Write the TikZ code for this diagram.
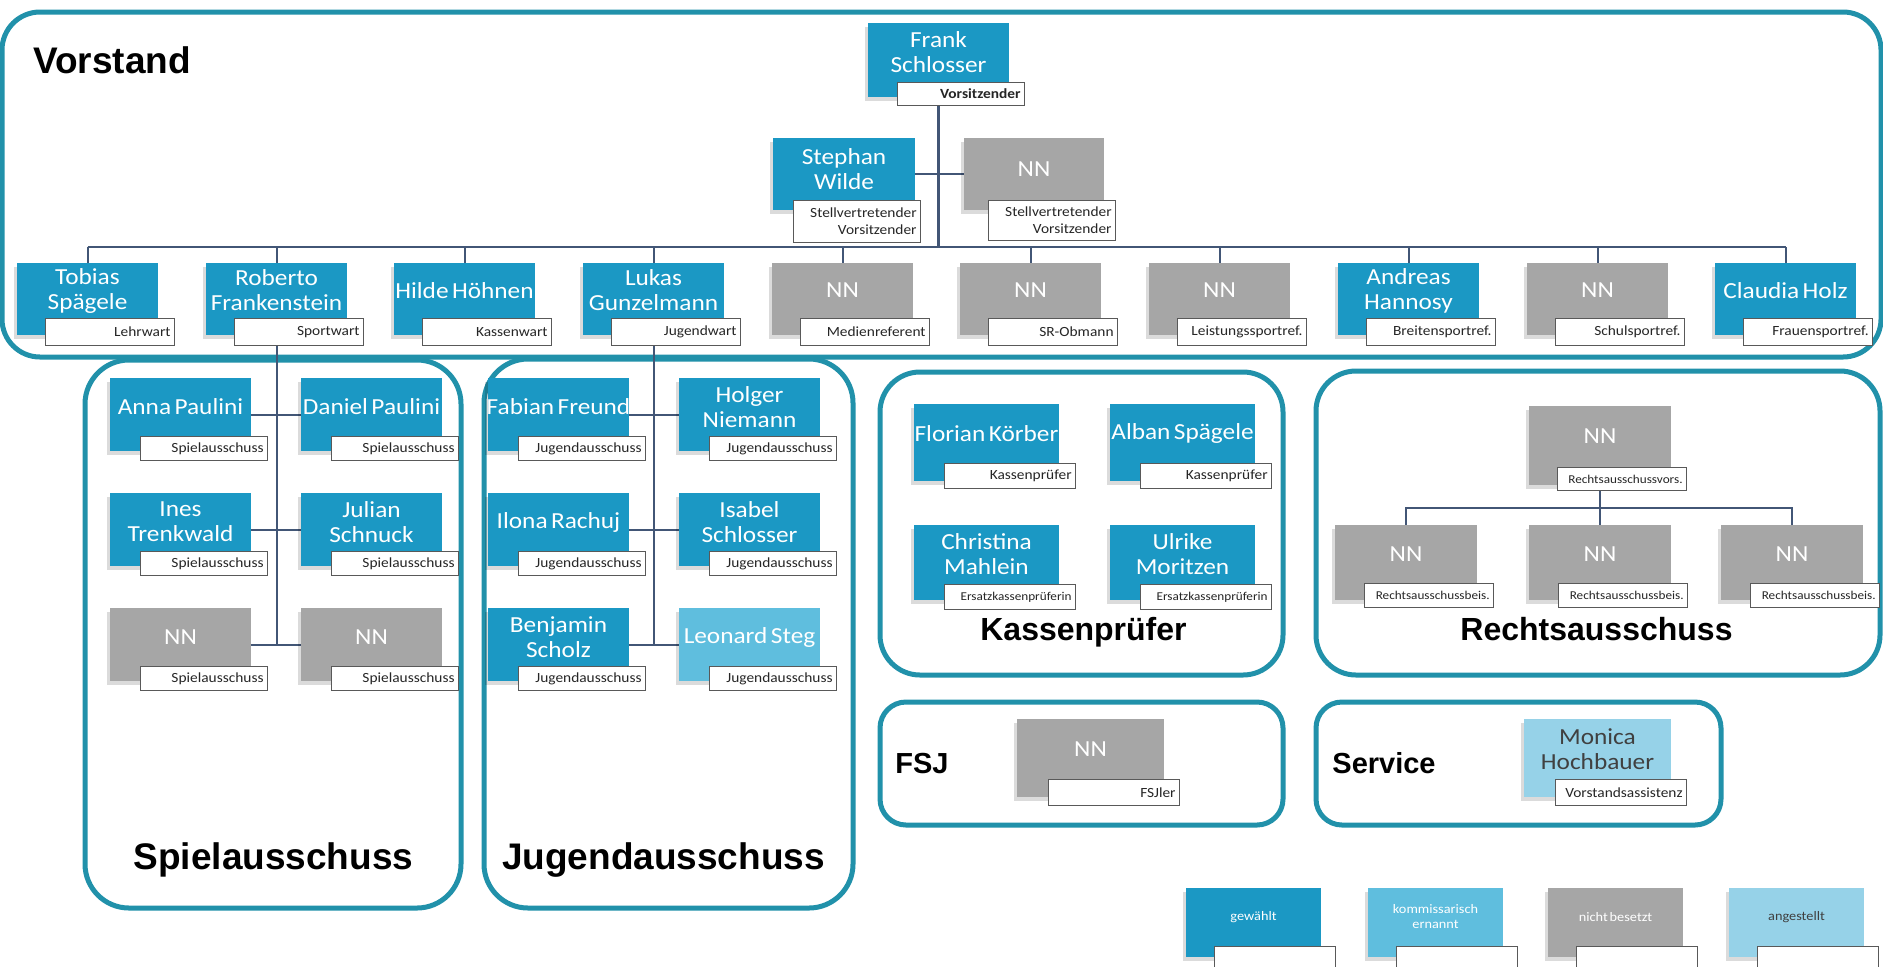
\documentclass[tikz,border=0pt]{standalone}
\usepackage{fontspec}
\setmainfont{Liberation Sans}
\newfontfamily\namefont{Carlito}[FakeStretch=1.1,WordSpace=0.6]
\newfontfamily\headfont{Liberation Sans}
\usetikzlibrary{backgrounds,shadows,calc}

\definecolor{gew}{RGB}{27,152,196}
\definecolor{kom}{RGB}{95,190,222}
\definecolor{nb}{RGB}{166,166,166}
\definecolor{ang}{RGB}{150,210,232}
\definecolor{grpcol}{RGB}{33,145,170}
\definecolor{conncol}{RGB}{66,86,118}

\tikzset{
  pbody/.style={rectangle,inner sep=0pt,draw=none,
    drop shadow={shadow xshift=-1.5pt,shadow yshift=-2pt,opacity=0.14,fill=black}},
  plab/.style={rectangle,inner sep=0pt,fill=white,draw=black!65,line width=0.5pt,anchor=north west},
  pname/.style={font=\namefont\fontsize{11.5pt}{12.5pt}\selectfont,align=center,inner sep=0pt},
  ptxt/.style={font=\namefont\fontsize{7pt}{8.5pt}\selectfont,align=right,inner sep=0pt,anchor=east,text=black!85},
  grp/.style={draw=grpcol,line width=2.5pt},
  conn/.style={draw=conncol,line width=1pt},
  headbig/.style={font=\headfont\bfseries\fontsize{18.5pt}{20pt}\selectfont,inner sep=0pt},
  headmid/.style={font=\headfont\bfseries\fontsize{16pt}{18pt}\selectfont,inner sep=0pt},
  headsmall/.style={font=\headfont\bfseries\fontsize{14.5pt}{16pt}\selectfont,inner sep=0pt},
}

% geometry defaults (in pixels)
\def\bw{141}\def\bh{72}\def\ldx{28}\def\ldy{55}\def\lw{129}\def\lh{27}\def\tcol{white}
% #1 name, #2 x, #3 y (top left), #4 fill, #5 name text, #6 label text
\newcommand\person[6]{%
  \node[pbody,fill=#4,minimum width=\bw*0.5pt,minimum height=\bh*0.5pt] (#1) at (#2+\bw/2,#3+\bh/2) {};
  \node[pname,text=\tcol] (#1n) at (#2+\bw/2,#3+\ldy/2) {#5};
  \node[plab,minimum width=\lw*0.5pt,minimum height=\lh*0.5pt] (#1l) at (#2+\ldx,#3+\ldy) {};
  \node[ptxt] (#1t) at ($(#1l.east)+(-2pt,0)$) {#6};%
}
\newcommand\tinylab[1]{{\fontsize{6pt}{7pt}\selectfont #1}}

\begin{document}
\begin{tikzpicture}[x=0.5pt,y=-0.5pt]
\useasboundingbox (0,0) rectangle (1883,966);

% ---------- Vorstand ----------
\def\bw{141}\def\bh{74}\def\ldx{29}\def\ldy{59}\def\lw{127}\def\lh{23}
\person{frank}{868}{23}{gew}{Frank\\Schlosser}{\bfseries Vorsitzender}
\def\bw{142}\def\bh{72}\def\ldx{20}\def\ldy{62}\def\lw{127}\def\lh{42}
\person{stephan}{773}{138}{gew}{Stephan\\Wilde}{Stellvertretender\\Vorsitzender}
\def\bw{140}\def\ldx{24}\def\lh{40}
\person{nnv}{964}{138}{nb}{NN}{Stellvertretender\\Vorsitzender}

\def\bw{141}\def\bh{72}\def\ldx{28}\def\ldy{55}\def\lw{129}\def\lh{27}
\person{tobias}{17}{263}{gew}{Tobias\\Spägele}{Lehrwart}
\person{roberto}{206}{263}{gew}{Roberto\\Frankenstein}{Sportwart}
\person{hilde}{394}{263}{gew}{Hilde Höhnen}{Kassenwart}
\person{lukas}{583}{263}{gew}{Lukas\\Gunzelmann}{Jugendwart}
\person{medien}{772}{263}{nb}{NN}{Medienreferent}
\person{sro}{960}{263}{nb}{NN}{SR-Obmann}
\person{leist}{1149}{263}{nb}{NN}{Leistungssportref.}
\person{andreas}{1338}{263}{gew}{Andreas\\Hannosy}{Breitensportref.}
\person{schul}{1527}{263}{nb}{NN}{Schulsportref.}
\person{claudia}{1715}{263}{gew}{Claudia Holz}{Frauensportref.}

% ---------- Spielausschuss ----------
\def\bw{141}\def\bh{73}\def\ldx{30}\def\ldy{58}\def\lw{127}\def\lh{24}
\person{anna}{110}{378}{gew}{Anna Paulini}{Spielausschuss}
\person{daniel}{301}{378}{gew}{Daniel Paulini}{Spielausschuss}
\person{ines}{110}{493}{gew}{Ines\\Trenkwald}{Spielausschuss}
\person{julian}{301}{493}{gew}{Julian\\Schnuck}{Spielausschuss}
\person{spa}{110}{608}{nb}{NN}{Spielausschuss}
\person{spb}{301}{608}{nb}{NN}{Spielausschuss}

% ---------- Jugendausschuss ----------
\person{fabian}{488}{378}{gew}{Fabian Freund}{Jugendausschuss}
\person{holger}{679}{378}{gew}{Holger\\Niemann}{Jugendausschuss}
\person{ilona}{488}{493}{gew}{Ilona Rachuj}{Jugendausschuss}
\person{isabel}{679}{493}{gew}{Isabel\\Schlosser}{Jugendausschuss}
\person{benjamin}{488}{608}{gew}{Benjamin\\Scholz}{Jugendausschuss}
\person{leonard}{679}{608}{kom}{Leonard Steg}{Jugendausschuss}

% ---------- Kassenpruefer ----------
\def\bw{145}\def\bh{77}\def\ldx{30}\def\ldy{59}\def\lw{131}\def\lh{25}
\person{florian}{914}{404}{gew}{Florian Körber}{Kassenprüfer}
\person{alban}{1110}{404}{gew}{Alban Spägele}{Kassenprüfer}
\def\bh{75}
\person{christina}{914}{525}{gew}{Christina\\Mahlein}{\tinylab{Ersatzkassenprüferin}}
\person{ulrike}{1110}{525}{gew}{Ulrike\\Moritzen}{\tinylab{Ersatzkassenprüferin}}

% ---------- Rechtsausschuss ----------
\def\bw{142}\def\bh{79}\def\ldx{28}\def\ldy{61}\def\lw{129}\def\lh{23}
\person{rv}{1529}{406}{nb}{NN}{\tinylab{Rechtsausschussvors.}}
\def\bh{75}\def\ldx{29}\def\ldy{58}\def\lh{24}
\person{ra}{1335}{525}{nb}{NN}{\tinylab{Rechtsausschussbeis.}}
\person{rb}{1529}{525}{nb}{NN}{\tinylab{Rechtsausschussbeis.}}
\person{rc}{1721}{525}{nb}{NN}{\tinylab{Rechtsausschussbeis.}}

% ---------- FSJ / Service ----------
\def\bw{147}\def\bh{78}\def\ldx{31}\def\ldy{60}\def\lw{131}\def\lh{26}
\person{fsj}{1017}{719}{nb}{NN}{FSJler}
\def\tcol{black!75}
\person{monica}{1524}{719}{ang}{Monica\\Hochbauer}{Vorstandsassistenz}

% ---------- Legend ----------
\def\bw{135}\def\bh{69}\def\ldx{28}\def\ldy{58}\def\lw{121}\def\lh{26}\def\tcol{white}
\tikzset{pname/.append style={font=\namefont\fontsize{6.5pt}{7.5pt}\selectfont}}
\person{lga}{1186}{888}{gew}{gewählt}{}
\person{lgb}{1368}{888}{kom}{kommissarisch\\ernannt}{}
\person{lgc}{1548}{888}{nb}{nicht besetzt}{}
\def\tcol{black!75}
\person{lgd}{1729}{888}{ang}{angestellt}{}

% ---------- Headings ----------
\node[headbig,anchor=base west] (hvor) at (33,73) {Vorstand};
\node[headbig,anchor=base] (hspiel) at (273.5,869) {Spielausschuss};
\node[headbig,anchor=base] (hjug) at (663.5,869) {Jugendausschuss};
\node[headmid,anchor=base] (hkas) at (1083.5,640) {Kassenprüfer};
\node[headmid,anchor=base] (hrecht) at (1596.5,640) {Rechtsausschuss};
\node[headsmall,anchor=base west] (hfsj) at (895,773) {FSJ};
\node[headsmall,anchor=base west] (hserv) at (1332,773) {Service};

\begin{pgfonlayer}{background}
  \fill[white] (0,0) rectangle (1883,966);
  % group frames
  \draw[grp,rounded corners=19pt] (2,12) rectangle (1881,357);
  \draw[grp,rounded corners=22pt] (85,360) rectangle (461,908);
  \draw[grp,rounded corners=22pt] (484,359) rectangle (853,908);
  \draw[grp,rounded corners=20pt] (880,372) rectangle (1283,675);
  \draw[grp,rounded corners=20pt] (1316,371) rectangle (1880,675);
  \draw[grp,rounded corners=13pt] (880,702) rectangle (1283,825);
  \draw[grp,rounded corners=13pt] (1316,702) rectangle (1721,825);
  % connectors
  \coordinate (bus) at (939,247);
  \draw[conn,line width=1.5pt] (frank.south) -- (frank.south |- bus);
  \draw[conn] (stephan.east) -- (nnv.west);
  \draw[conn] (tobias.north |- bus) -- (claudia.north |- bus);
  \foreach \n in {tobias,roberto,hilde,lukas,medien,sro,leist,andreas,schul,claudia}
    \draw[conn] (\n.north) -- (\n.north |- bus);
  \draw[conn] (roberto.south) -- (roberto.south |- spa.east);
  \draw[conn] (anna.east) -- (daniel.west);
  \draw[conn] (ines.east) -- (julian.west);
  \draw[conn] (spa.east) -- (spb.west);
  \draw[conn] (lukas.south) -- (lukas.south |- benjamin.east);
  \draw[conn] (fabian.east) -- (holger.west);
  \draw[conn] (ilona.east) -- (isabel.west);
  \draw[conn] (benjamin.east) -- (leonard.west);
  \coordinate (rbus) at (1600,508);
  \draw[conn] (rv.south) -- (rb.north);
  \draw[conn] (ra.north) -- (ra.north |- rbus) -- (rc.north |- rbus) -- (rc.north);
\end{pgfonlayer}
\end{tikzpicture}
\end{document}
